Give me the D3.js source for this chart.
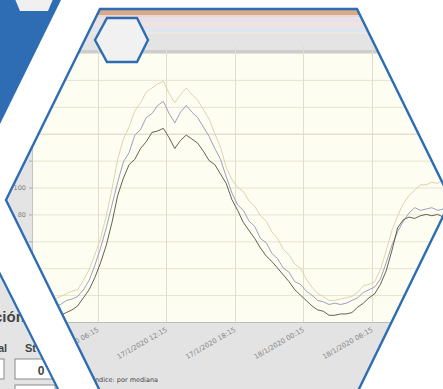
<!DOCTYPE html>
<html>
<head>
<meta charset="utf-8">
<script src="https://cdn.jsdelivr.net/npm/d3@7"></script>
<style>
  body { margin: 0; background: #fff; }
  svg { display: block; }
</style>
</head>
<body>
<div id="chart"></div>
<script>
// chart data
var startTime = "17/1/2020 00:30";
var endTime = "18/1/2020 13:00";
var tickLabels = ["17/1/2020 06:15", "17/1/2020 12:15", "17/1/2020 18:15", "18/1/2020 00:15", "18/1/2020 06:15"];
var yTicks = [0, 20, 40, 60, 80, 100, 120, 140, 160, 180, 200];

// one value every 30 minutes from startTime
var upper = [15, 15, 16, 16, 17, 19, 21, 23, 24, 31, 39, 50, 62, 79, 99, 121, 136, 145, 157, 163,
  171, 174, 177, 179, 170, 163, 169, 174, 169, 165, 158, 151, 140, 130, 115, 106, 100, 97, 90, 86,
  79, 75, 67, 62, 54, 50, 43, 40, 32, 26, 21, 19, 16, 16, 17, 18, 19, 22, 27, 28,
  30, 39, 53, 68, 79, 88, 94, 98, 102, 102, 104, 103, 106, 104];
var middle = [10, 10, 10, 11, 12, 13, 16, 17, 19, 24, 31, 42, 55, 70, 87, 104, 119, 126, 139, 143,
  152, 155, 161, 164, 155, 148, 156, 161, 156, 152, 145, 138, 129, 121, 108, 96, 87, 83, 75, 71,
  62, 59, 51, 47, 40, 37, 30, 28, 23, 20, 16, 15, 13, 14, 13, 14, 16, 18, 22, 24,
  26, 32, 44, 57, 67, 75, 81, 85, 83, 84, 85, 83, 84, 83];
var lower = [3, 3, 4, 4, 4, 5, 7, 9, 12, 18, 24, 33, 44, 57, 74, 94, 107, 117, 121, 129,
  134, 141, 142, 144, 137, 129, 135, 139, 136, 133, 127, 120, 117, 110, 103, 91, 83, 74, 68, 62,
  55, 49, 45, 40, 35, 30, 24, 20, 16, 12, 9, 8, 5, 5, 6, 6, 7, 11, 14, 18,
  21, 28, 38, 53, 70, 76, 78, 77, 79, 80, 79, 80, 78, 78];

var seriesList = [
  { name: "upper", values: upper, color: "#dccda6" },
  { name: "middle", values: middle, color: "#9096b6" },
  { name: "lower", values: lower, color: "#505040" }
];

var W = 443, H = 389;
var blue = "#2e6db3";
var parseTime = d3.timeParse("%d/%m/%Y %H:%M");

var svg = d3.select("#chart").append("svg").attr("width", W).attr("height", H);
var defs = svg.append("defs");
var line = d3.line();

function addClip(id, pts) {
  defs.append("clipPath").attr("id", id).append("path").attr("d", line(pts) + "Z");
}

// shapes of the slide
var bigHex = [[100, 9], [357, 9], [451, 200], [358, 391], [100, 391], [6, 200]];
var smallHex = [[95, 40], [107, 18], [137, 18], [148, 40], [137, 62], [107, 62]];
var cornerHex = [[12, -8], [20, -27], [48, -27], [56, -8], [48, 11], [20, 11]];
var blueCorner = [[0, 0], [61, 0], [0, 124]];
var uiPanel = [[-2, 270], [60, 393], [-2, 393]];

addClip("bigHexClip", bigHex);
addClip("uiClip", uiPanel);
addClip("cornerClip", blueCorner);

// top-left blue corner
svg.append("path").attr("d", line(blueCorner) + "Z").attr("fill", blue);
svg.append("g").attr("clip-path", "url(#cornerClip)")
  .append("path").attr("d", line(cornerHex) + "Z").attr("fill", "#f0f0f0");

// bottom-left piece of another screenshot
var uiFont = "Liberation Sans, Arial, sans-serif";
var ui = svg.append("g").attr("clip-path", "url(#uiClip)");
ui.append("rect").attr("x", -2).attr("y", 260).attr("width", 80).attr("height", 140).attr("fill", "#e4e4e4");
ui.append("text").attr("x", -6).attr("y", 322).attr("font-family", uiFont)
  .attr("font-size", 15).attr("font-weight", "bold").attr("fill", "#444").text("ción");
ui.append("text").attr("x", -2).attr("y", 352).attr("font-family", uiFont)
  .attr("font-size", 11).attr("font-weight", "bold").attr("fill", "#444").text("al");
ui.append("text").attr("x", 25).attr("y", 352).attr("font-family", uiFont)
  .attr("font-size", 11).attr("font-weight", "bold").attr("fill", "#444").text("St");
ui.append("rect").attr("x", -10).attr("y", 359).attr("width", 14).attr("height", 20).attr("fill", "#fff").attr("stroke", "#8a8a8a");
ui.append("rect").attr("x", 15).attr("y", 359).attr("width", 40).attr("height", 20).attr("fill", "#fff").attr("stroke", "#8a8a8a");
ui.append("text").attr("x", 41).attr("y", 375).attr("text-anchor", "middle").attr("font-family", uiFont)
  .attr("font-size", 12).attr("font-weight", "bold").attr("fill", "#444").text("0");
ui.append("rect").attr("x", 15).attr("y", 385).attr("width", 40).attr("height", 20).attr("fill", "#fff").attr("stroke", "#8a8a8a");
svg.append("line").attr("x1", -2).attr("y1", 270).attr("x2", 60).attr("y2", 393)
  .attr("stroke", blue).attr("stroke-width", 2.2);

// the chart screenshot inside the big hexagon
var g = svg.append("g").attr("clip-path", "url(#bigHexClip)");

var plotLeft = 32, plotRight = 449, plotTop = 53, plotBottom = 322;

var x = d3.scaleTime().domain([parseTime(startTime), parseTime(endTime)]).range([plotLeft, plotRight]);
var y = d3.scaleLinear().domain([0, 200]).range([plotBottom, plotTop]);

// window header stripes
var stripes = [
  [0, 11, "#d6a78b"], [11, 15, "#d9a98c"], [15, 17, "#ecd7cd"], [17, 22, "#e6e2ec"],
  [22, 27, "#f0e2de"], [27, 32, "#dfe6ee"], [32, 34, "#ece7df"], [34, 50, "#e4e4e4"], [50, 53, "#cdcdcd"]
];
stripes.forEach(function(s) {
  g.append("rect").attr("x", 0).attr("y", s[0]).attr("width", W + 10).attr("height", s[1] - s[0]).attr("fill", s[2]);
});

// side and bottom panels
g.append("rect").attr("x", 0).attr("y", plotTop).attr("width", plotLeft).attr("height", plotBottom - plotTop).attr("fill", "#e4e4e4");
g.append("rect").attr("x", 0).attr("y", plotBottom).attr("width", W + 10).attr("height", H - plotBottom + 5).attr("fill", "#e3e3e3");
g.append("rect").attr("x", plotLeft).attr("y", plotTop).attr("width", W + 10 - plotLeft).attr("height", plotBottom - plotTop).attr("fill", "#fdfdf2");

// grid
g.append("g").selectAll("line").data(yTicks.slice(1)).enter().append("line")
  .attr("x1", plotLeft).attr("x2", W + 10)
  .attr("y1", function(d) { return y(d) + 0.5; }).attr("y2", function(d) { return y(d) + 0.5; })
  .attr("stroke", function(d) { return d === 140 ? "#d8d2bd" : "#e7e3d0"; });

var tickTimes = tickLabels.map(parseTime);
g.append("g").selectAll("line").data(tickTimes).enter().append("line")
  .attr("x1", function(d) { return Math.round(x(d)) + 0.5; }).attr("x2", function(d) { return Math.round(x(d)) + 0.5; })
  .attr("y1", 46).attr("y2", plotBottom)
  .attr("stroke", "#e2decb");

// y axis
var yAxis = g.append("g").attr("transform", "translate(" + plotLeft + ",0)")
  .call(d3.axisLeft(y).tickValues(yTicks).tickSize(3).tickFormat(d3.format("d")));
yAxis.select(".domain").attr("stroke", "#c4c4c4");
yAxis.selectAll(".tick line").attr("stroke", "#aaa");
yAxis.selectAll("text").attr("fill", "#808080").attr("font-size", 6.5)
  .attr("font-family", "DejaVu Sans, sans-serif");

// x axis
var xAxis = g.append("g").attr("transform", "translate(0," + plotBottom + ")")
  .call(d3.axisBottom(x).tickValues(tickTimes).tickSize(0)
    .tickFormat(function(d, i) { return tickLabels[i]; }));
xAxis.select(".domain").attr("stroke", "#bdbdbd");
xAxis.selectAll("text")
  .attr("fill", "#858585").attr("font-size", 6.8).attr("font-family", "DejaVu Sans, sans-serif")
  .attr("text-anchor", "end").attr("dy", 0).attr("y", 0)
  .attr("transform", "translate(1,9) rotate(-30)");

// series
var times = d3.timeMinute.every(30).range(parseTime(startTime), d3.timeMinute.offset(parseTime(endTime), 1));
var seriesLine = d3.line()
  .x(function(d, i) { return x(times[i]); })
  .y(function(d) { return y(d); });

g.append("g").selectAll("path").data(seriesList).enter().append("path")
  .attr("d", function(s) { return seriesLine(s.values); })
  .attr("fill", "none")
  .attr("stroke", function(s) { return s.color; })
  .attr("stroke-width", 0.9)
  .attr("stroke-linejoin", "round");

// footer note
g.append("text").attr("x", 93).attr("y", 382)
  .attr("font-family", "DejaVu Sans, sans-serif").attr("font-size", 6.5).attr("fill", "#444")
  .text("Índice: por mediana");

// outlines
svg.append("path").attr("d", line(bigHex) + "Z").attr("fill", "none").attr("stroke", blue).attr("stroke-width", 2.4);
svg.append("path").attr("d", line(smallHex) + "Z").attr("fill", "#f1f1f1").attr("stroke", blue).attr("stroke-width", 2.4);
</script>
</body>
</html>
